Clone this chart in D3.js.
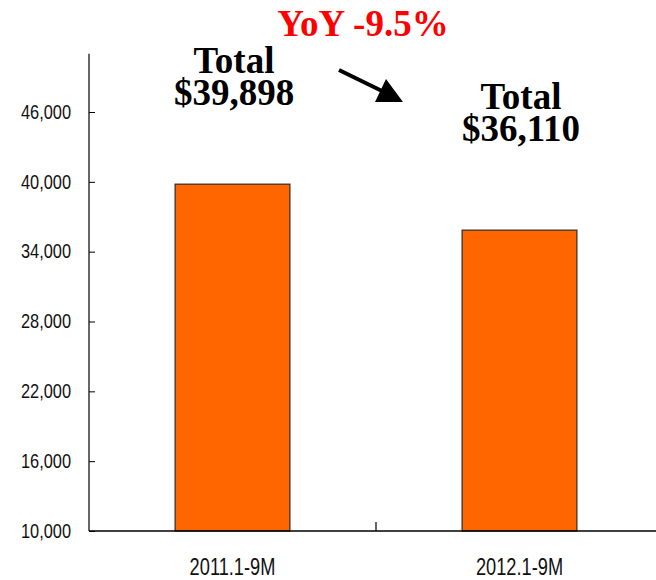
<!DOCTYPE html>
<html>
<head>
<meta charset="utf-8">
<script src="https://cdn.jsdelivr.net/npm/d3@7"></script>
<style>
  html, body { margin: 0; padding: 0; background: #fff; }
  svg { display: block; }
  .tick text { font-family: "Liberation Sans", Arial, sans-serif; }
</style>
</head>
<body>
<svg id="chart" width="656" height="580"></svg>
<script>
const categories = ["2011.1-9M", "2012.1-9M"];
const values = [39800, 35850];
const totalLabels = ["$39,898", "$36,110"];
const yTicks = [10000, 16000, 22000, 28000, 34000, 40000, 46000];
const yoyLabel = "YoY -9.5%";

const svg = d3.select("#chart");
const x = d3.scaleBand().domain(categories).range([89, 663]).paddingInner(0.6).paddingOuter(0.3);
const y = d3.scaleLinear().domain([10000, 46000]).range([531, 112]);
const yTop = 51000;

// bars
svg.selectAll("rect.bar").data(values).enter().append("rect")
  .attr("class", "bar")
  .attr("x", (d, i) => x(categories[i]))
  .attr("width", x.bandwidth())
  .attr("y", d => y(d))
  .attr("height", d => y(10000) - y(d))
  .attr("fill", "#FF6600")
  .attr("stroke", "#2a2a2a")
  .attr("stroke-width", 1.2);

// y axis
const ySx = 0.84;
const yAxis = d3.axisLeft(y).tickValues(yTicks).tickFormat(d3.format(",")).tickSizeInner(-6).tickSizeOuter(0).tickPadding(18);
const gy = svg.append("g").attr("transform", "translate(89,0)").call(yAxis);
gy.select(".domain").remove();
gy.append("line").attr("x1", 0).attr("x2", 0).attr("y1", y(yTop)).attr("y2", y(10000)).attr("stroke", "#000").attr("stroke-width", 1.2);
gy.selectAll(".tick line").attr("stroke", "#000");
gy.selectAll(".tick text").attr("font-size", 19.5).attr("fill", "#111")
  .attr("x", -18 / ySx).attr("transform", `scale(${ySx},1)`);

// x axis
const xSx = 0.76;
const xAxis = d3.axisBottom(x).tickSize(0).tickPadding(27);
const gx = svg.append("g").attr("transform", "translate(0,531)").call(xAxis);
gx.select(".domain").remove();
gx.append("line").attr("x1", 89).attr("x2", 656).attr("y1", 0).attr("y2", 0).attr("stroke", "#000").attr("stroke-width", 1.5);
gx.selectAll(".tick text").attr("font-size", 24).attr("fill", "#111").attr("transform", `scale(${xSx},1)`);
// category separator tick
const sepX = x(categories[1]) - x.step() * x.paddingInner() / 2;
gx.append("line").attr("x1", sepX).attr("x2", sepX).attr("y1", 0).attr("y2", -9).attr("stroke", "#000").attr("stroke-width", 1.2);

// total annotations
const labelBase = [73, 109];
const serif = "'Liberation Serif', 'Times New Roman', serif";
categories.forEach((c, i) => {
  const cx = x(c) + x.bandwidth() / 2 + 1.5;
  svg.append("text")
    .attr("x", cx).attr("y", labelBase[i])
    .attr("text-anchor", "middle")
    .attr("font-family", serif).attr("font-weight", "bold").attr("font-size", 37)
    .attr("fill", "#000").text("Total");
  svg.append("text")
    .attr("x", cx).attr("y", labelBase[i] + 32)
    .attr("text-anchor", "middle")
    .attr("font-family", serif).attr("font-weight", "bold").attr("font-size", 37)
    .attr("fill", "#000").text(totalLabels[i]);
});

// YoY label
svg.append("text")
  .attr("x", 363).attr("y", 36)
  .attr("text-anchor", "middle")
  .attr("font-family", serif)
  .attr("font-weight", "bold")
  .attr("font-size", 37)
  .attr("fill", "#FF0000")
  .text(yoyLabel);

// arrow
svg.append("line").attr("x1", 339).attr("y1", 70).attr("x2", 382).attr("y2", 91)
  .attr("stroke", "#000").attr("stroke-width", 4);
svg.append("polygon").attr("points", "375,102 386,79 403,102").attr("fill", "#000");
</script>
</body>
</html>
